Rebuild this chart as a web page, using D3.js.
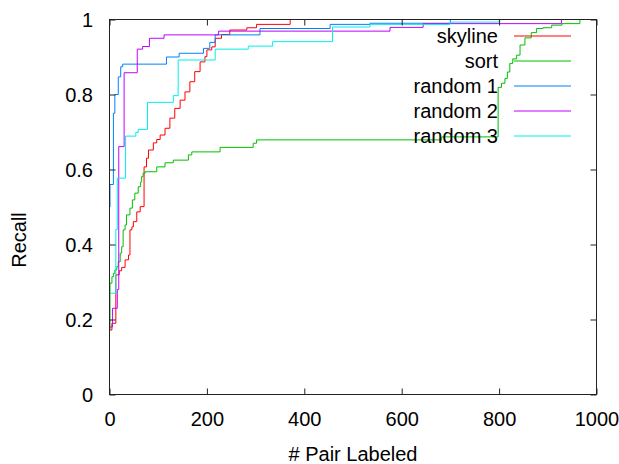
<!DOCTYPE html>
<html>
<head>
<meta charset="utf-8">
<script src="https://cdn.jsdelivr.net/npm/d3@7"></script>
<style>
  body { margin: 0; background: #fff; }
  svg { display: block; font-family: "Liberation Sans", Arial, sans-serif; }
</style>
</head>
<body>
<div id="chart"></div>
<script>
// step data: [pairs labeled, recall]
var skyline = [[0,0.172],[5,0.19],[13,0.319],[20,0.33],[25,0.339],[32,0.359],[39,0.372],[42,0.439],[46,0.447],
  [49,0.461],[56,0.487],[63,0.501],[71,0.607],[76,0.63],[80,0.652],[90,0.671],[97,0.68],[104,0.692],[114,0.71],
  [124,0.737],[134,0.763],[145,0.785],[155,0.807],[165,0.834],[175,0.861],[186,0.887],[196,0.901],[200,0.919],
  [210,0.927],[217,0.95],[230,0.96],[247,0.972],[282,0.978],[302,0.987],[371,1.0],[985,1.0]];
var sort = [[0,0.172],[1,0.297],[5,0.314],[8,0.323],[11,0.332],[15,0.341],[18,0.354],[22,0.377],[25,0.394],
  [28,0.439],[32,0.452],[35,0.479],[42,0.497],[47,0.519],[52,0.537],[59,0.554],[64,0.567],[66,0.581],[69,0.59],
  [73,0.594],[97,0.607],[114,0.618],[131,0.625],[162,0.639],[169,0.647],[227,0.659],[295,0.67],[302,0.679],
  [682,0.687],[798,0.819],[805,0.83],[812,0.843],[817,0.86],[822,0.883],[828,0.895],[836,0.905],[843,0.932],
  [853,0.951],[866,0.965],[877,0.976],[890,0.978],[908,0.985],[929,0.989],[966,1.0],[985,1.0]];
var random1 = [[0,0.5],[1,0.56],[8,0.75],[11,0.8],[18,0.847],[23,0.874],[27,0.881],[117,0.9],[143,0.91],
  [193,0.923],[206,0.939],[217,0.959],[309,0.976],[453,0.987],[535,0.99],[700,1.0],[985,1.0]];
var random2 = [[0,0.18],[6,0.23],[16,0.28],[19,0.661],[30,0.858],[57,0.921],[68,0.928],[82,0.95],[112,0.959],
  [224,0.969],[576,0.979],[644,0.989],[928,1.0],[985,1.0]];
var random3 = [[0,0.27],[13,0.44],[16,0.577],[33,0.689],[54,0.699],[59,0.707],[78,0.779],[131,0.797],[141,0.892],
  [217,0.921],[285,0.929],[335,0.941],[458,0.98],[535,0.987],[699,0.993],[800,1.0],[985,1.0]];

var seriesNames = ['skyline', 'sort', 'random 1', 'random 2', 'random 3'];
var seriesData = [skyline, sort, random1, random2, random3];
var colors = ['#ff0000', '#00c000', '#0080ff', '#c000ff', '#00eeee'];
var xTicks = [0, 200, 400, 600, 800, 1000];
var yTicks = [0, 0.2, 0.4, 0.6, 0.8, 1];

(function() {
  var width = 619, height = 464;
  var plotL = 109.5, plotR = 596.5, plotT = 19.5, plotB = 394.5;

  var svg = d3.select('#chart').append('svg')
    .attr('width', width).attr('height', height);

  var x = d3.scaleLinear().domain([0, 1000]).range([plotL, plotR]);
  var y = d3.scaleLinear().domain([0, 1]).range([plotB, plotT]);

  var line = d3.line()
    .x(function(d) { return x(d[0]); })
    .y(function(d) { return y(d[1]); })
    .curve(d3.curveStepAfter);

  // curves
  svg.append('g').selectAll('path')
    .data(seriesData).enter()
    .append('path')
    .attr('d', line)
    .attr('fill', 'none')
    .attr('stroke', function(d, i) { return colors[i]; })
    .attr('stroke-width', 1);

  // gnuplot style inward ticks on all four sides
  var fmt = d3.format('~g');
  var gx = svg.append('g').attr('transform', 'translate(0,' + plotB + ')')
    .call(d3.axisBottom(x).tickValues(xTicks).tickSize(-6).tickFormat(fmt));
  gx.selectAll('text').attr('y', 31.5).attr('dy', 0);
  svg.append('g').attr('transform', 'translate(0,' + plotT + ')')
    .call(d3.axisTop(x).tickValues(xTicks).tickSize(-6).tickFormat(''));
  var gy = svg.append('g').attr('transform', 'translate(' + plotL + ',0)')
    .call(d3.axisLeft(y).tickValues(yTicks).tickSize(-6).tickFormat(fmt));
  gy.selectAll('text').attr('x', -16.5).attr('dy', '0.33em');
  svg.append('g').attr('transform', 'translate(' + plotR + ',0)')
    .call(d3.axisRight(y).tickValues(yTicks).tickSize(-6).tickFormat(''));

  svg.selectAll('.domain').remove();
  svg.selectAll('.tick line').attr('stroke', '#222');
  svg.selectAll('.tick text').attr('font-size', 20).attr('fill', '#000');
  svg.selectAll('.tick').each(function() { d3.select(this.parentNode).attr('font-family', null); });

  // border
  svg.append('rect')
    .attr('x', plotL).attr('y', plotT)
    .attr('width', plotR - plotL).attr('height', plotB - plotT)
    .attr('fill', 'none').attr('stroke', '#222').attr('stroke-width', 1);

  // axis titles
  svg.append('text')
    .attr('x', (plotL + plotR) / 2).attr('y', 461)
    .attr('text-anchor', 'middle').attr('font-size', 20)
    .text('# Pair Labeled');
  svg.append('text')
    .attr('transform', 'translate(26,240) rotate(-90)')
    .attr('text-anchor', 'middle').attr('font-size', 20)
    .text('Recall');

  // legend
  var legend = svg.append('g').selectAll('g')
    .data(seriesNames).enter()
    .append('g')
    .attr('transform', function(d, i) { return 'translate(0,' + (36 + i * 25) + ')'; });
  legend.append('text')
    .attr('x', 498).attr('y', 6.5)
    .attr('text-anchor', 'end').attr('font-size', 20)
    .text(function(d) { return d; });
  legend.append('line')
    .attr('x1', 514).attr('x2', 571)
    .attr('y1', 0).attr('y2', 0)
    .attr('stroke', function(d, i) { return colors[i]; })
    .attr('stroke-width', 1);
})();
</script>
</body>
</html>
